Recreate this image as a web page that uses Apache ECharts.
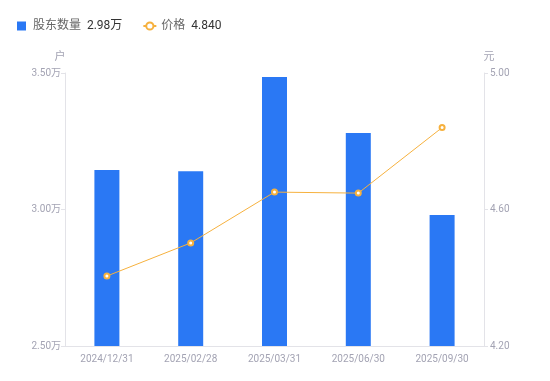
<!DOCTYPE html>
<html><head><meta charset="utf-8">
<script src="https://cdn.jsdelivr.net/npm/echarts@6/dist/echarts.min.js"></script>
<style>html,body{margin:0;padding:0;background:#fff}#c{width:550px;height:381px}</style>
</head><body><div id="c"></div>
<script>
const categories = ['2024/12/31','2025/02/28','2025/03/31','2025/06/30','2025/09/30'];
const holders = [31450, 31400, 34850, 32800, 29800];
const prices = [4.405, 4.502, 4.651, 4.648, 4.840];
const leftTicks = {min: 25000, max: 35000, interval: 5000};
const rightTicks = {min: 4.2, max: 5.0, interval: 0.4};
const legendValues = {'股东数量': '2.98万', '价格': '4.840'};

const chart = echarts.init(document.getElementById('c'));
const labelColor = '#a3a3b3';
chart.setOption({
  animation: false,
  textStyle: {fontFamily: 'Roboto, "Noto Sans CJK SC", sans-serif'},
  legend: {
    left: 12, top: 15, itemGap: 20, itemWidth: 13, itemHeight: 9,
    data: [{name: '股东数量', icon: 'path://M0,0h10v10h-10z'}, {name: '价格'}],
    formatter: function(n){ return '{n|' + n + '}  {v|' + legendValues[n] + '}'; },
    textStyle: {rich: {n: {color: '#666', fontSize: 12}, v: {color: '#333', fontSize: 12}}}
  },
  grid: {left: 65, right: 66, top: 73, bottom: 35},
  xAxis: {
    type: 'category', data: categories,
    axisLine: {lineStyle: {color: '#e3e3e8'}},
    axisTick: {show: false},
    axisLabel: {color: labelColor, fontSize: 10, margin: 8}
  },
  yAxis: [{
    type: 'value', name: '户', min: leftTicks.min, max: leftTicks.max, interval: leftTicks.interval,
    nameTextStyle: {color: labelColor, fontSize: 11, padding: [0, 10, 0, 0]}, nameGap: 10,
    axisLine: {show: true, lineStyle: {color: '#e3e3e8'}},
    axisTick: {show: true, length: 4, lineStyle: {color: '#e3e3e8'}},
    splitLine: {show: false},
    axisLabel: {color: labelColor, fontSize: 10, margin: 4, formatter: v => (v/10000).toFixed(2) + '万'}
  }, {
    type: 'value', name: '元', min: rightTicks.min, max: rightTicks.max, interval: rightTicks.interval,
    nameTextStyle: {color: labelColor, fontSize: 11, padding: [0, 0, 0, 10]}, nameGap: 10,
    axisLine: {show: true, lineStyle: {color: '#e3e3e8'}},
    axisTick: {show: true, length: 4, lineStyle: {color: '#e3e3e8'}},
    splitLine: {show: false},
    axisLabel: {color: labelColor, fontSize: 10, margin: 6, formatter: v => v.toFixed(2)}
  }],
  series: [{
    name: '股东数量', type: 'bar', data: holders, barWidth: 25, yAxisIndex: 0,
    itemStyle: {color: '#2a78f4'}
  }, {
    name: '价格', type: 'line', data: prices, yAxisIndex: 1,
    symbol: 'emptyCircle', symbolSize: 5,
    lineStyle: {width: 1, color: '#f6b13e'}, itemStyle: {color: '#f6b13e'}
  }]
});
</script></body></html>
